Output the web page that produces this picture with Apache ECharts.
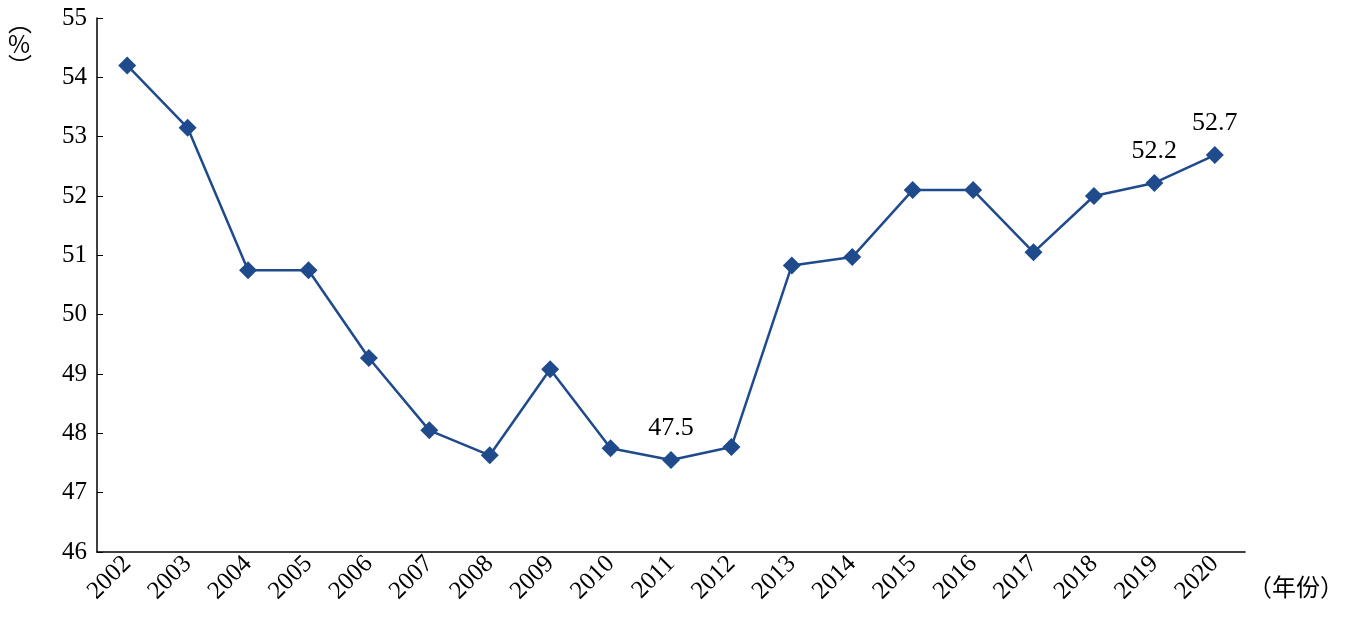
<!DOCTYPE html><html><head><meta charset="utf-8">
<script src="https://cdn.jsdelivr.net/npm/echarts@6/dist/echarts.min.js"></script>
<style>body{margin:0}#c{width:1360px;height:632px}</style></head><body><div id="c"></div>
<script>
const years=['2002','2003','2004','2005','2006','2007','2008','2009','2010','2011','2012','2013','2014','2015','2016','2017','2018','2019','2020'];
const values=[54.2,53.15,50.75,50.75,49.27,48.05,47.63,49.08,47.75,47.55,47.77,50.83,50.97,52.1,52.1,51.05,52.0,52.22,52.69];
const labelled={'2011':'47.5','2019':'52.2','2020':'52.7'};
const F='Liberation Serif';
const c=echarts.init(document.getElementById('c'));
c.setOption({
 animation:false,
 grid:{left:97,right:115,top:18,bottom:80},
 xAxis:{type:'category',data:years,boundaryGap:true,
  axisLine:{lineStyle:{color:'#000',width:1.5}},
  axisTick:{inside:true,length:6,lineStyle:{color:'#000'}},
  axisLabel:{rotate:45,color:'#000',fontSize:25,fontFamily:F,margin:8}},
 yAxis:{type:'value',min:46,max:55,interval:1,
  axisLine:{show:true,lineStyle:{color:'#000',width:1.5}},
  axisTick:{show:true,inside:true,length:6,lineStyle:{color:'#000'}},
  splitLine:{show:false},
  axisLabel:{color:'#000',fontSize:25,fontFamily:F,margin:10}},
 graphic:[
  {type:'text',left:8,top:10,style:{text:'︵\n%\n︶',fontSize:24,fontFamily:'Noto Sans CJK SC',fill:'#000',lineHeight:22,align:'center',x:12}},
  {type:'text',left:1248,top:575,style:{text:'（年份）',fontSize:24,fontFamily:'Noto Sans CJK SC',fill:'#000'}}
 ],
 series:[{type:'line',data:values,symbol:'diamond',symbolSize:18,
  lineStyle:{color:'#1f4a8c',width:2.5},itemStyle:{color:'#1f4a8c'},
  label:{show:true,position:'top',distance:10,fontSize:26,fontFamily:F,color:'#000',
   formatter:p=>labelled[p.name]||''}}]
});
</script></body></html>
